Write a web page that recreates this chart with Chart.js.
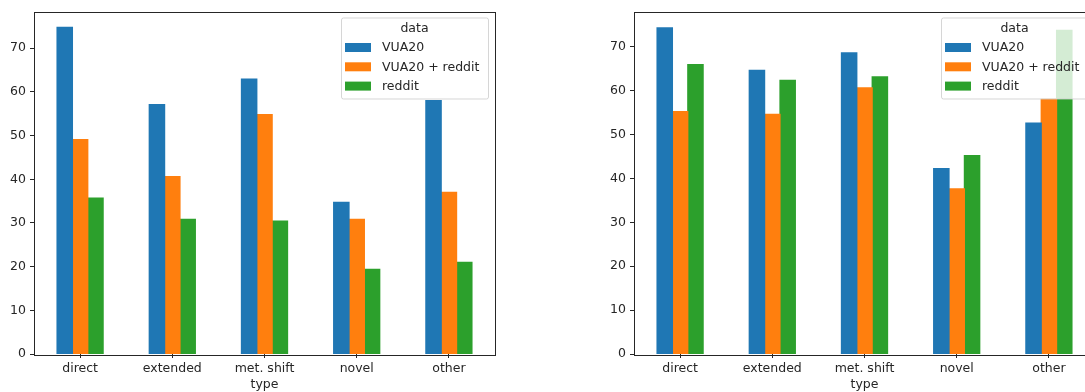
<!DOCTYPE html>
<html>
<head>
<meta charset="utf-8">
<script src="https://cdn.jsdelivr.net/npm/chart.js@4/dist/chart.umd.min.js"></script>
<style>
  html, body { margin: 0; padding: 0; background: #fff; overflow: hidden; }
  body { width: 1085px; height: 392px; position: relative; }
  .plot { position: absolute; top: 0; height: 392px; width: 500px; }
  #leftBox { left: 0; }
  #rightBox { left: 600px; }
</style>
</head>
<body>
<div class="plot" id="leftBox"><canvas id="leftChart"></canvas></div>
<div class="plot" id="rightBox"><canvas id="rightChart"></canvas></div>
<script>
const categories = ['direct', 'extended', 'met. shift', 'novel', 'other'];
const seriesNames = ['VUA20', 'VUA20 + reddit', 'reddit'];
const seriesColors = ['#1f77b4', '#ff7f0e', '#2ca02c'];

// left panel
const leftVua = [74.8, 57.1, 62.9, 34.7, 58.0];
const leftVuaReddit = [49.1, 40.6, 54.8, 30.8, 37.0];
const leftReddit = [35.7, 30.8, 30.4, 19.4, 21.0];

// right panel
const rightVua = [74.3, 64.6, 68.6, 42.2, 52.6];
const rightVuaReddit = [55.2, 54.6, 60.6, 37.6, 58.1];
const rightReddit = [65.9, 62.3, 63.1, 45.2, 73.7];

const yTicks = [0, 10, 20, 30, 40, 50, 60, 70];
const legendTitle = 'data';
const xTitle = 'type';

const FONT = "'DejaVu Sans', sans-serif";
const TEXT = '#262626';

// matplotlib-ish frame + legend drawn over the bars
const mplDecor = {
  id: 'mplDecor',
  afterDatasetsDraw(chart) {
    const { ctx, chartArea: a } = chart;
    ctx.save();
    ctx.strokeStyle = '#262626';
    ctx.lineWidth = 1;
    ctx.strokeRect(Math.round(a.left) + 0.5, Math.round(a.top) + 0.5,
      Math.round(a.right - a.left), Math.round(a.bottom - a.top));

    const w = 147, h = 81;
    const x = a.right - 7 - w, y = a.top + 6;
    ctx.globalAlpha = 0.8;
    ctx.fillStyle = '#ffffff';
    ctx.strokeStyle = '#cccccc';
    ctx.beginPath();
    ctx.roundRect(x + 0.5, y + 0.5, w, h, 2);
    ctx.fill();
    ctx.stroke();
    ctx.globalAlpha = 1;

    ctx.font = '12.5px ' + FONT;
    ctx.fillStyle = TEXT;
    ctx.textBaseline = 'middle';
    ctx.textAlign = 'center';
    ctx.fillText(legendTitle, x + w / 2, y + 11);
    ctx.textAlign = 'left';
    chart.data.datasets.forEach((ds, i) => {
      const cy = y + 30 + i * 19.3;
      ctx.fillStyle = ds.backgroundColor;
      ctx.fillRect(x + 4, cy - 4.5, 26, 9);
      ctx.fillStyle = TEXT;
      ctx.fillText(ds.label, x + 41, cy + 0.5);
    });
    ctx.restore();
  }
};

function makeChart(id, values, yMax) {
  return new Chart(id, {
    type: 'bar',
    data: {
      labels: categories,
      datasets: seriesNames.map((name, i) => ({
        label: name,
        data: values[i],
        backgroundColor: seriesColors[i],
        borderWidth: 0,
        inflateAmount: 0.6,
        categoryPercentage: 0.5,
        barPercentage: 1.0
      }))
    },
    options: {
      responsive: true,
      maintainAspectRatio: false,
      animation: false,
      events: [],
      layout: { padding: { top: 11, right: 5, left: 0, bottom: 0 } },
      plugins: { legend: { display: false }, tooltip: { enabled: false } },
      scales: {
        x: {
          grid: { display: true, offset: false, drawOnChartArea: false, tickLength: 4, tickColor: '#262626' },
          border: { display: false },
          ticks: { color: TEXT, font: { family: FONT, size: 12.5 }, padding: 3, maxRotation: 0 },
          title: { display: true, text: xTitle, color: TEXT, font: { family: FONT, size: 12.5 }, padding: { top: 0, bottom: 0 } },
          afterFit(axis) { axis.height = 38; }
        },
        y: {
          min: 0,
          max: yMax,
          grid: { display: true, drawOnChartArea: false, tickLength: 4, tickColor: '#262626' },
          border: { display: false },
          ticks: { color: TEXT, font: { family: FONT, size: 12.5 }, padding: 4, stepSize: 10 },
          afterBuildTicks(axis) {
            axis.ticks = yTicks.map(v => ({ value: v }));
          },
          afterFit(axis) { axis.width = 34; }
        }
      }
    },
    plugins: [mplDecor]
  });
}

makeChart('leftChart', [leftVua, leftVuaReddit, leftReddit], 78.4);
makeChart('rightChart', [rightVua, rightVuaReddit, rightReddit], 78.0);
</script>
</body>
</html>
